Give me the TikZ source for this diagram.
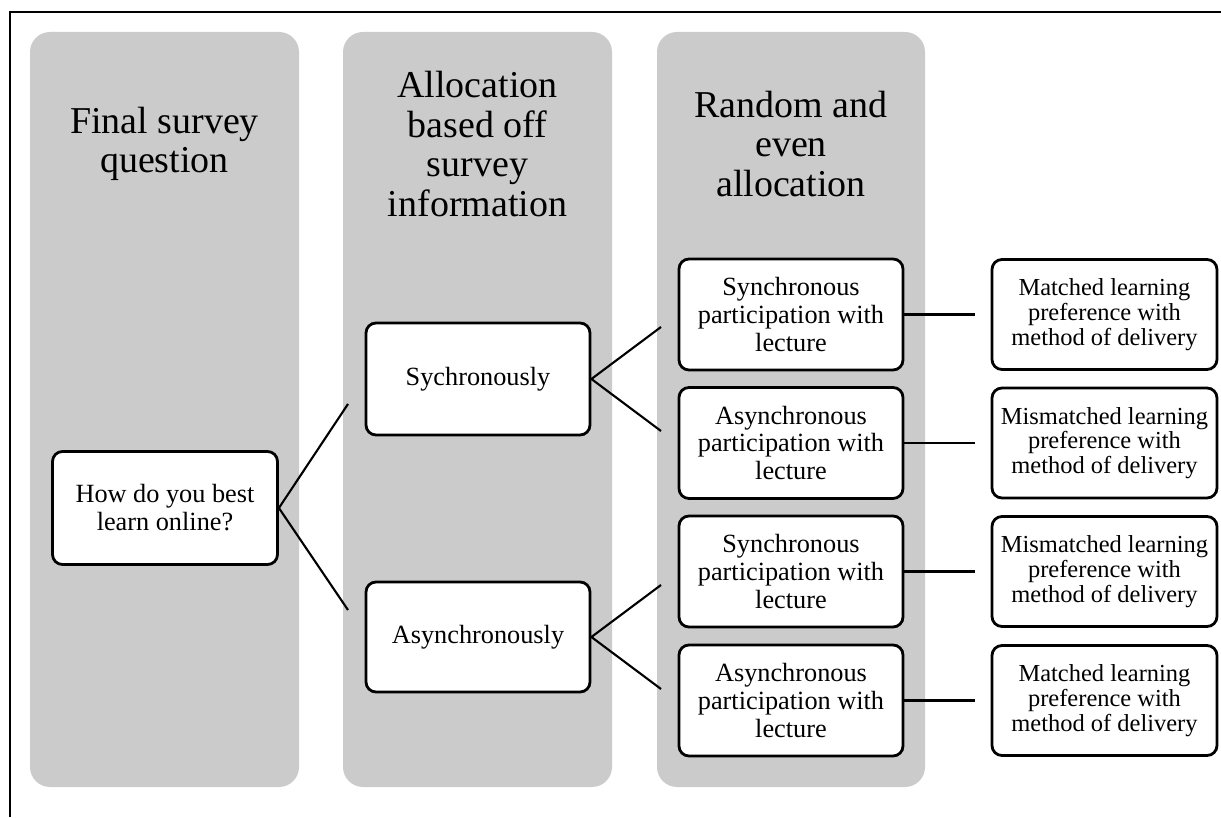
\documentclass[tikz,border=0pt]{standalone}
\usepackage{fontspec}
\setmainfont{Liberation Serif}
\begin{document}
\begin{tikzpicture}[
    colpanel/.style={fill=mypanel, rounded corners=0.5cm},
    headtxt/.style={align=center, font=\fontsize{27}{28}\selectfont},
    stepbox/.style={draw=black, fill=white, line width=2pt, rounded corners=0.25cm,
        align=center, inner sep=0pt, minimum width=5.6cm, minimum height=2.8cm,
        font=\fontsize{18.7}{19.9}\selectfont},
    outbox/.style={stepbox, minimum width=5.625cm, minimum height=2.75cm,
        font=\fontsize{17.4}{17.6}\selectfont},
    link/.style={line width=1.5pt}]
    \definecolor{mypanel}{RGB}{203,203,203}

    \useasboundingbox (0,0) rectangle (30.525,20.425);

    % frame
    \draw[line width=1.5pt] (0.25,0) -- (0.25,20.125) -- (30.525,20.125);

    % the three grey columns
    \fill[colpanel] (0.75,0.75) rectangle (7.475,19.625);
    \fill[colpanel] (8.575,0.75) rectangle (15.3,19.625);
    \fill[colpanel] (16.425,0.75) rectangle (23.125,19.625);

    \node[headtxt] (head1) at (4.1125,16.825) {Final survey\\question};
    \node[headtxt] (head2) at (11.9375,16.825) {Allocation\\based off\\survey\\information};
    \node[headtxt] (head3) at (19.775,16.825) {Random and\\even\\allocation};

    % question and answers
    \node[stepbox, minimum width=5.625cm, minimum height=2.825cm] (question) at (4.125,7.725) {How do you best\\learn online?};
    \node[stepbox] (sync) at (11.95,10.95) {Sychronously};
    \node[stepbox, minimum height=2.75cm] (async) at (11.95,4.5) {Asynchronously};

    % allocation
    \node[stepbox, minimum height=2.775cm] (syncsync) at (19.775,12.5625) {Synchronous\\participation with\\lecture};
    \node[stepbox, minimum height=2.775cm] (syncasync) at (19.775,9.35) {Asynchronous\\participation with\\lecture};
    \node[stepbox, minimum height=2.775cm] (asyncsync) at (19.775,6.1375) {Synchronous\\participation with\\lecture};
    \node[stepbox, minimum height=2.775cm] (asyncasync) at (19.775,2.9125) {Asynchronous\\participation with\\lecture};

    % outcomes
    \node[outbox] (out1) at (27.6125,12.5625) {Matched learning\\preference with\\method of delivery};
    \node[outbox] (out2) at (27.6125,9.35) {Mismatched learning\\preference with\\method of delivery};
    \node[outbox] (out3) at (27.6125,6.1375) {Mismatched learning\\preference with\\method of delivery};
    \node[outbox] (out4) at (27.6125,2.9125) {Matched learning\\preference with\\method of delivery};

    % line ends
    \coordinate (qup) at (8.7,10.325);
    \coordinate (qdown) at (8.7,5.175);
    \coordinate (sup1) at (16.525,12.25);
    \coordinate (sdown1) at (16.525,9.65);
    \coordinate (sup2) at (16.525,5.8);
    \coordinate (sdown2) at (16.525,3.2);
    \coordinate (oend1) at (24.375,12.5625);
    \coordinate (oend2) at (24.375,9.35);
    \coordinate (oend3) at (24.375,6.1375);
    \coordinate (oend4) at (24.375,2.9125);

    \draw[link] (qup) -- (question.east) -- (qdown);
    \draw[link] (sup1) -- (sync.east) -- (sdown1);
    \draw[link] (sup2) -- (async.east) -- (sdown2);

    \draw[link] (syncsync.east) -- (oend1);
    \draw[link] (syncasync.east) -- (oend2);
    \draw[link] (asyncsync.east) -- (oend3);
    \draw[link] (asyncasync.east) -- (oend4);
\end{tikzpicture}
\end{document}
